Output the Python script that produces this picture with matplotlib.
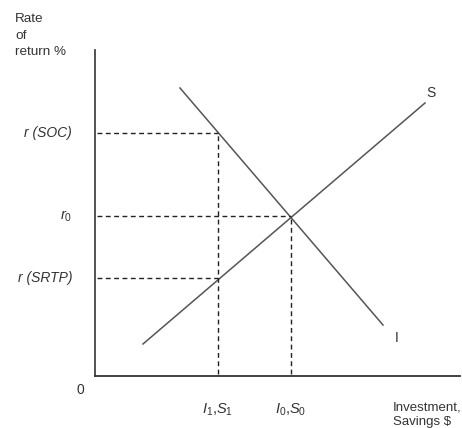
import matplotlib.pyplot as plt

plt.rcParams['font.family'] = ['Liberation Sans', 'DejaVu Sans']
plt.rcParams['mathtext.fontset'] = 'custom'
plt.rcParams['mathtext.it'] = 'Liberation Sans:italic'
plt.rcParams['mathtext.rm'] = 'Liberation Sans'

# diagram in its own units: origin at the axes corner
s_x = [48, 330]
s_y = [32, 273]
i_x = [85, 288]
i_y = [288, 51]

r_levels = [243, 160, 98]
r_labels = ['r (SOC)', r'$r_0$', 'r (SRTP)']
r_reach = [123, 196, 123]

q_levels = [123, 196]
q_labels = [r'$I_1{,}S_1$', r'$I_0{,}S_0$']
q_top = [243, 160]

fig = plt.figure(figsize=(4.62, 4.28), dpi=100)
ax = fig.add_axes([0, 0, 1, 1])
ax.set_xlim(-95, 367)
ax.set_ylim(-52, 376)
ax.axis('off')

# axes
ax.plot([0, 0], [0, 326], color='#444444', lw=1.3)
ax.plot([0, 365], [0, 0], color='#333333', lw=1.3)

# S and I curves
ax.plot(s_x, s_y, color='#555555', lw=1.1)
ax.plot(i_x, i_y, color='#555555', lw=1.1)
ax.text(s_x[1] + 6, s_y[1] + 10, 'S', fontsize=10, color='#333333', ha='center', va='center')
ax.text(i_x[1] + 14, i_y[1] - 13, 'I', fontsize=10, color='#333333', ha='center', va='center')

# dashed guides
for y, lab, xr in zip(r_levels, r_labels, r_reach):
    ax.plot([2, xr], [y, y], color='#222222', lw=1.0, ls=(0, (3.5, 2.5)))
    ax.text(-23, y, lab, fontsize=10.5 if '$' in lab else 10, style='italic',
            color='#333333', ha='right', va='center')

for x, lab, yt in zip(q_levels, q_labels, q_top):
    ax.plot([x, x], [2, yt], color='#222222', lw=1.0, ls=(0, (3.5, 2.5)))
    ax.text(x, -34, lab, fontsize=10.5, color='#333333', ha='center', va='center')

ax.text(-15, -14, '0', fontsize=10, color='#333333', ha='center', va='center')
ax.text(-80, 363, 'Rate\nof\nreturn %', fontsize=9.7, color='#333333', ha='left', va='top', linespacing=1.5)
ax.text(298, -25, 'Investment,\nSavings $', fontsize=9.5, color='#333333', ha='left', va='top', linespacing=1.3)

fig.savefig('out.png', dpi=100)
